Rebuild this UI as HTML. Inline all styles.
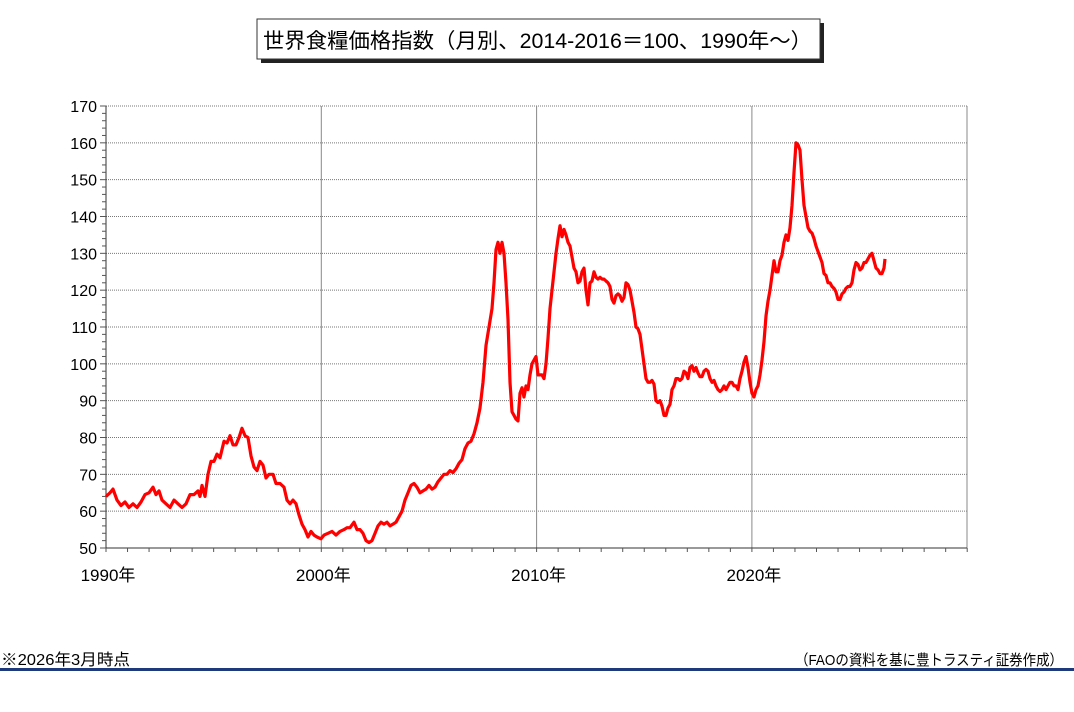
<!DOCTYPE html>
<html><head><meta charset="utf-8"><style>
body{margin:0;background:#fff;width:1074px;height:707px;overflow:hidden;font-family:"Liberation Sans","Noto Sans CJK JP",sans-serif;}
</style></head><body>
<svg width="1074" height="707" viewBox="0 0 1074 707" xmlns="http://www.w3.org/2000/svg" font-family="Liberation Sans, Noto Sans CJK JP, sans-serif">
<rect x="261" y="23" width="563" height="40" fill="#222"/>
<rect x="257" y="19" width="563" height="40" fill="#fff" stroke="#333" stroke-width="1"/>
<text x="263" y="48" font-size="21" fill="#000" textLength="549" lengthAdjust="spacingAndGlyphs">世界食糧価格指数（月別、2014-2016＝100、1990年～）</text>
<g id="grid"></g>
<polyline id="line" fill="none" stroke="#ff0000" stroke-width="3.2" stroke-linejoin="round"/>
<text x="1" y="665" font-size="16" fill="#000" textLength="129" lengthAdjust="spacingAndGlyphs">※2026年3月時点</text>
<text x="795" y="665" font-size="15" fill="#000" textLength="268" lengthAdjust="spacingAndGlyphs">（FAOの資料を基に豊トラスティ証券作成）</text>
<rect x="0" y="668" width="1074" height="3" fill="#1f3a7a"/>
</svg>
<script>
var ns="http://www.w3.org/2000/svg",g=document.getElementById('grid');
function el(t,a,txt){var e=document.createElementNS(ns,t);for(var k in a)e.setAttribute(k,a[k]);if(txt)e.textContent=txt;g.appendChild(e);}
var X0=106,X1=967,Y0=548,Y1=106,yp=function(v){return Y0-(v-50)*(Y0-Y1)/120;},xp=function(y){return X0+(y-1990)*21.53;};
for(var v=60;v<=170;v+=10)el('line',{x1:X0,x2:X1,y1:yp(v),y2:yp(v),stroke:'#777','stroke-width':1,'stroke-dasharray':'1,1'});
for(var d=2000;d<=2020;d+=10)el('line',{x1:xp(d),x2:xp(d),y1:Y1,y2:Y0,stroke:'#888','stroke-width':1});
el('line',{x1:X1,x2:X1,y1:Y1,y2:Y0,stroke:'#888','stroke-width':1});
el('line',{x1:X0,x2:X0,y1:Y1,y2:Y0,stroke:'#333','stroke-width':1});
el('line',{x1:X0,x2:X1,y1:Y0,y2:Y0,stroke:'#333','stroke-width':1});
for(var v=50;v<=170;v+=2){var m=v%10==0;el('line',{x1:X0-(m?6:4),x2:X0,y1:yp(v),y2:yp(v),stroke:'#555','stroke-width':1});
if(m)el('text',{x:X0-9,y:yp(v)+6,'font-size':16,'text-anchor':'end'},String(v));}
for(var y=1990;y<=2030;y++)el('line',{x1:xp(y),x2:xp(y),y1:Y0,y2:Y0+4,stroke:'#555','stroke-width':1});
[1990,2000,2010,2020].forEach(function(y){el('text',{x:xp(y)+2,y:Y0+33,'font-size':17,'text-anchor':'middle'},y+'年');});
var p=[[106,64],[110,65],[113,66],[117,63],[121,61.5],[125,62.5],[129,61],[133,62],[137,61],[141,62.5],[145,64.5],[149,65],[153,66.5],[156,64.5],[159,65.5],[162,63],[166,62],[170,61],[174,63],[178,62],[182,61],[186,62],[190,64.5],[194,64.5],[198,65.5],[200,64],[202,67],[205,64],[208,70],[211,73.5],[214,73.5],[217,75.5],[220,74.5],[224,79],[227,78.5],[230,80.5],[233,78],[236,78],[239,80],[242,82.5],[245,80.5],[248,80],[251,75],[254,72],[257,71],[260,73.5],[263,72.5],[266,69],[269,70],[273,70],[276,67.5],[280,67.5],[284,66.5],[287,63],[290,62],[293,63],[296,62],[299,59],[302,56.5],[305,55],[308,53],[311,54.5],[314,53.5],[317,53],[321,52.5],[324,53.5],[328,54],[332,54.5],[336,53.5],[340,54.5],[344,55],[347,55.5],[350,55.5],[354,57],[357,55],[360,55],[363,54],[366,52],[369,51.5],[372,52],[375,54],[378,56],[381,57],[384,56.5],[387,57],[390,56],[393,56.5],[396,57],[399,58.5],[402,60],[405,63],[408,65],[411,67],[414,67.5],[417,66.5],[420,65],[423,65.5],[426,66],[429,67],[432,66],[435,66.5],[438,68],[441,69],[444,70],[447,70],[450,71],[453,70.5],[456,71.5],[459,73],[462,74],[465,77],[468,78.5],[471,79],[474,81],[477,84],[480,88],[483,95],[486,105],[489,110],[492,115],[494,122],[496,131],[498,133],[500,130],[502,133],[504,130],[506,122],[508,112],[510,95],[512,87],[514,86],[516,85],[518,84.5],[520,92],[522,93.5],[524,91],[526,94],[528,93],[530,97],[532,100],[534,101],[536,102],[538,97],[540,97],[542,97],[544,96],[546,100],[548,107],[550,115],[552,120],[554,125],[556,130],[558,134],[560,137.5],[562,134.5],[564,136.5],[566,135],[568,133],[570,132],[572,129],[574,126],[576,125],[578,122],[580,122.5],[582,125],[584,126],[586,120],[588,116],[590,122],[592,122.5],[594,125],[596,123.5],[598,123],[600,123.5],[602,123],[604,123],[606,122.5],[608,122],[610,121],[612,117.5],[614,116.5],[616,118.5],[618,119],[620,118.5],[622,117],[624,118],[626,122],[628,121.5],[630,120],[632,117],[634,114],[636,110],[638,109.5],[640,108],[642,104],[644,100],[646,96],[648,95],[650,95],[652,95.5],[654,94.5],[656,90],[658,89.5],[660,90],[662,88.5],[664,86],[666,86],[668,88],[670,89],[672,93],[674,94],[676,96],[678,96],[680,95.5],[682,96],[684,98],[686,97.5],[688,96],[690,99],[692,99.5],[694,98],[696,99],[698,97.5],[700,96.5],[702,96.5],[704,98],[706,98.5],[708,98],[710,96],[712,95],[714,95.5],[716,94],[718,93],[720,92.5],[722,93],[724,94],[726,93],[728,94],[730,95],[732,95],[734,94],[736,94],[738,93],[740,96],[742,98],[744,100.5],[746,102],[748,99],[750,95],[752,92],[754,91],[756,93],[758,94],[760,97],[762,101],[764,106],[766,113],[768,117],[770,120],[772,124],[774,128],[776,125],[778,125],[780,128],[782,129.5],[784,133],[786,135],[788,133.5],[790,137],[792,143],[794,152],[796,160],[798,159.5],[800,158],[802,150],[804,143],[806,140],[808,137],[810,136],[812,135.5],[814,134],[816,132],[818,130.5],[820,129],[822,127.5],[824,124.5],[826,124],[828,122],[830,122],[832,121],[834,120.5],[836,119.5],[838,117.5],[840,117.5],[842,119],[844,119.5],[846,120.5],[848,121],[850,121],[852,122],[854,125.5],[856,127.5],[858,127],[860,125.5],[862,126],[864,127.5],[866,127.5],[868,128.5],[870,129.5],[872,130],[874,128],[876,126],[878,125.5],[880,124.5],[882,124.5],[884,126],[885,128.5]];
document.getElementById('line').setAttribute('points',p.map(function(q){return q[0]+','+yp(q[1]).toFixed(1);}).join(' '));
</script>
</body></html>
